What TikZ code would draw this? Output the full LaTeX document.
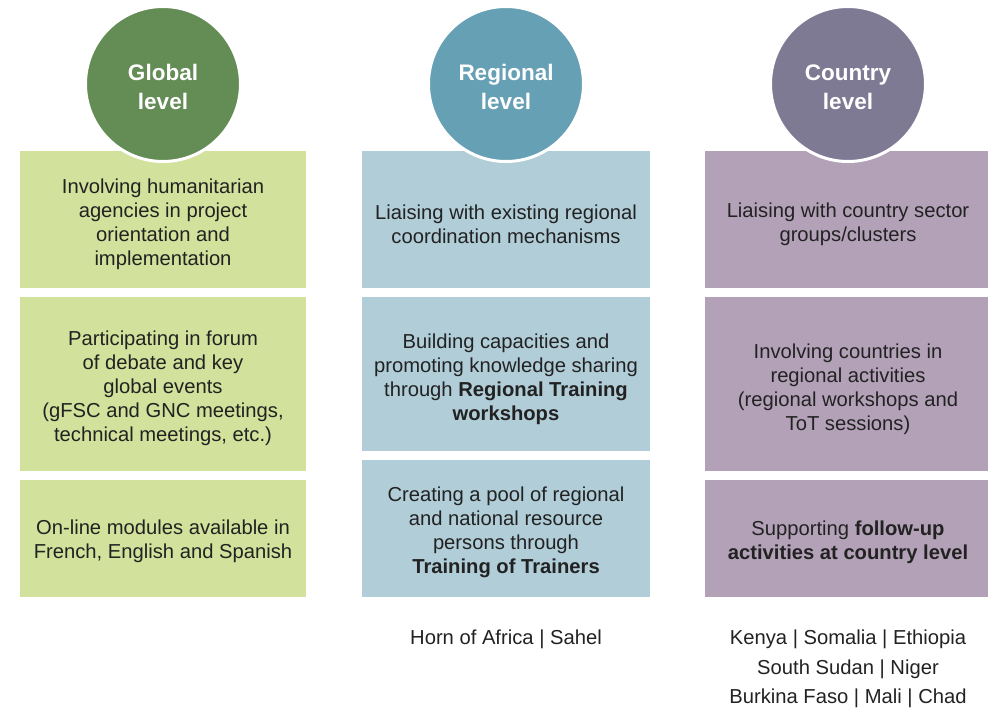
\documentclass[tikz,border=0pt]{standalone}
\usepackage{fontspec}
\setmainfont{Liberation Sans}
\definecolor{gcirc}{HTML}{648C55}
\definecolor{gbox}{HTML}{D2E19B}
\definecolor{rcirc}{HTML}{66A0B4}
\definecolor{rbox}{HTML}{B0CDD8}
\definecolor{ccirc}{HTML}{7F7A93}
\definecolor{cbox}{HTML}{B3A1B8}
\definecolor{txt}{HTML}{222222}
\begin{document}
\begin{tikzpicture}[x=1pt,y=-1pt,
  boxtext/.style={align=center,text=txt,font=\fontsize{20.2}{24}\selectfont,inner sep=0pt},
  levelcirc/.style={circle,draw=white,line width=3pt,minimum size=155pt,inner sep=0pt},
  circtext/.style={text=white,align=center,inner sep=0pt,font=\bfseries\fontsize{22.5}{29}\selectfont},
  listtext/.style={align=center,text=txt,font=\fontsize{20.2}{29.5}\selectfont,inner sep=0pt,anchor=north}]
\useasboundingbox (0,0) rectangle (988,707);
% Global column
\fill[gbox] (20,151) rectangle (306,288);
\fill[gbox] (20,297) rectangle (306,471);
\fill[gbox] (20,480) rectangle (306,597);
\node[boxtext] (g1) at (163,224) {Involving humanitarian\\agencies in project\\orientation and\\implementation};
\node[boxtext] (g2) at (163,388) {Participating in forum\\of debate and key\\global events\\(gFSC and GNC meetings,\\technical meetings, etc.)};
\node[boxtext] (g3) at (163,541) {On-line modules available in\\French, English and Spanish};
% Regional column
\fill[rbox] (362,151) rectangle (650,288);
\fill[rbox] (362,297) rectangle (650,451);
\fill[rbox] (362,460) rectangle (650,597);
\node[boxtext] (r1) at (506,224) {Liaising with existing regional\\coordination mechanisms};
\node[boxtext] (r2) at (506,379) {Building capacities and\\promoting knowledge sharing\\through \textbf{Regional Training}\\\textbf{workshops}};
\node[boxtext] (r3) at (506,532) {Creating a pool of regional\\and national resource\\persons through\\\textbf{Training of Trainers}};
% Country column
\fill[cbox] (705,151) rectangle (995,288);
\fill[cbox] (705,297) rectangle (995,471);
\fill[cbox] (705,480) rectangle (995,597);
\node[boxtext] (c1) at (848,224) {Liaising with country sector\\groups/clusters};
\node[boxtext] (c2) at (848,389) {Involving countries in\\regional activities\\(regional workshops and\\ToT sessions)};
\node[boxtext] (c3) at (848,542) {Supporting \textbf{follow-up}\\\textbf{activities at country level}};
% Circles
\node[levelcirc,fill=gcirc] (gc) at (163,84) {};
\node[levelcirc,fill=rcirc] (rc) at (506,84) {};
\node[levelcirc,fill=ccirc] (cc) at (848,84) {};
\node[circtext] (gt) at ([yshift=-3pt]gc.center) {Global\\level};
\node[circtext] (rt) at ([yshift=-3pt]rc.center) {Regional\\level};
\node[circtext] (ct) at ([yshift=-3pt]cc.center) {Country\\level};
% Lists
\node[listtext] (rl) at (506,630) {Horn of Africa | Sahel};
\node[listtext] (cl) at (848,630) {Kenya | Somalia | Ethiopia\\South Sudan | Niger\\Burkina Faso | Mali | Chad};
\end{tikzpicture}
\end{document}
